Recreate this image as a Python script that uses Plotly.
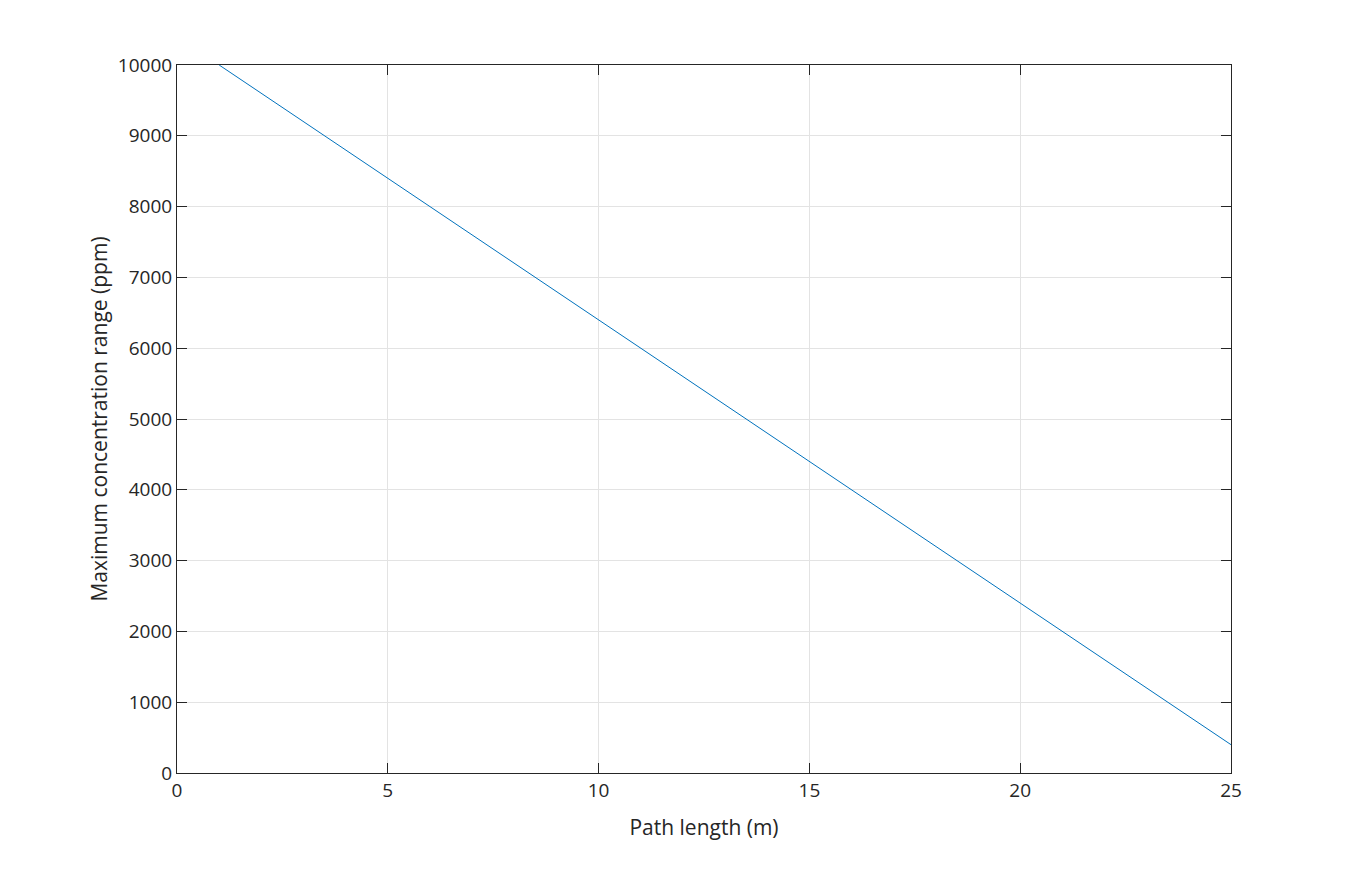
import plotly.graph_objects as go

path_length_m = [1, 5, 10, 15, 20, 25]
max_conc_ppm = [10000, 8400, 6400, 4400, 2400, 400]

x_ticks = [0, 5, 10, 15, 20, 25]
y_ticks = [0, 1000, 2000, 3000, 4000, 5000, 6000, 7000, 8000, 9000, 10000]
y_tick_labels = [str(v) for v in y_ticks]

fig = go.Figure()
fig.add_trace(go.Scatter(
    x=path_length_m, y=max_conc_ppm, mode="lines",
    line=dict(color="#0072BD", width=1), showlegend=False,
))

FAM = "Open Sans, Noto Sans, sans-serif"
axis_common = dict(
    showline=True, linecolor="#262626", linewidth=1, mirror="ticks",
    ticks="inside", ticklen=10, tickcolor="#262626", tickwidth=1,
    showgrid=True, gridcolor="#e3e3e3", gridwidth=1, zeroline=False,
    tickfont=dict(family=FAM, size=19, color="#262626"),
)

fig.update_layout(
    width=1361, height=869,
    margin=dict(l=169, r=138, t=57, b=104),
    paper_bgcolor="white", plot_bgcolor="white",
    font=dict(family=FAM, size=19, color="#262626"),
    xaxis=dict(range=[0, 25], tickvals=x_ticks,
               title=dict(text="Path length (m)", font=dict(family=FAM, size=21, color="#262626"), standoff=18),
               **axis_common),
    yaxis=dict(range=[0, 10000], tickvals=y_ticks, ticktext=y_tick_labels,
               title=dict(text="Maximum concentration range (ppm)", font=dict(family=FAM, size=21, color="#262626"), standoff=4),
               **axis_common),
)

fig.write_html("out.html")
